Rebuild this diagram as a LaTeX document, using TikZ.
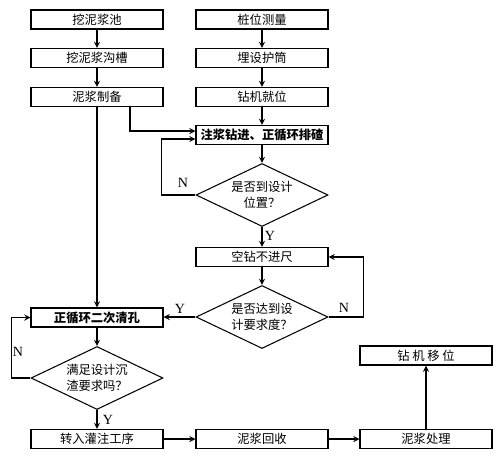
\documentclass[tikz,border=0pt]{standalone}
\usepackage{fontspec}
\setmainfont{Noto Sans CJK SC}
\newfontfamily\yn{Liberation Serif}
\usetikzlibrary{shapes.geometric}

\tikzset{
  box/.style={draw, rectangle, minimum width=2.64cm, minimum height=0.38cm,
    inner sep=0pt, font=\fontsize{7}{8}\selectfont},
  boldbox/.style={box, font=\fontsize{7}{8}\selectfont\bfseries},
  decision/.style={draw, diamond, aspect=2, minimum width=2.64cm, minimum height=1.26cm,
    inner sep=0pt, align=center, font=\fontsize{7}{9}\selectfont},
  tag/.style={font=\yn\fontsize{8}{8}\selectfont}
}

\begin{document}
\begin{tikzpicture}[x=0.02cm, y=-0.02cm, line width=0.6pt, >=stealth]
\useasboundingbox (0,0) rectangle (500,457);
\node[box] (POOL) at (97,19.5) {挖泥浆池};
\node[box] (DITCH) at (97,58) {挖泥浆沟槽};
\node[box] (PREP) at (97,97) {泥浆制备};
\node[box] (SURVEY) at (262,19.5) {桩位测量};
\node[box] (CASING) at (262,58) {埋设护筒};
\node[box] (RIG) at (262,97) {钻机就位};
\node[boldbox] (DRILL) at (262,135) {注浆钻进、正循环排碴};
\node[decision] (DEPTH) at (262,195) {是否到设计\\位置？};
\node[box] (IDLE) at (262,257) {空钻不进尺};
\node[decision] (REACH) at (262,317) {是否达到设\\计要求度？};
\node[boldbox] (CLEAN) at (97,317.5) {正循环二次清孔};
\node[decision] (SEDIM) at (97,378) {满足设计沉\\渣要求吗？};
\node[box] (POUR) at (97,439) {转入灌注工序};
\node[box] (RECOV) at (262,439) {泥浆回收};
\node[box] (TREAT) at (426,439) {泥浆处理};
\node[box] (MOVE) at (426,355.5) {钻\ 机\ 移\ 位};
\draw [->] (POOL) to (DITCH);
\draw [->] (DITCH) to (PREP);
\draw [->] (SURVEY) to (CASING);
\draw [->] (CASING) to (RIG);
\draw [->] (RIG) to (DRILL);
\draw [->] ([xshift=0.66cm]PREP.south) |- ([yshift=0.08cm]DRILL.west);
\draw [->] (DRILL) to (DEPTH);
\draw [->] (DEPTH.west) -- ++(-34,0) |- ([yshift=-0.08cm]DRILL.west);
\node[tag] (N1) at (183,183) {N};
\draw [->] (DEPTH) to (IDLE);
\node[tag] (Y1) at (270,236) {Y};
\draw [->] (IDLE) to (REACH);
\draw [->] (REACH.east) -- ++(35,0) |- (IDLE.east);
\node[tag] (N2) at (344,308) {N};
\draw [->] (REACH.west) to (REACH.west -| CLEAN.east);
\node[tag] (Y2) at (180,309) {Y};
\draw [->] (PREP) to (CLEAN);
\draw [->] (CLEAN) to (SEDIM);
\draw [->] (SEDIM.west) -- ++(-19,0) |- (CLEAN.west);
\node[tag] (N3) at (18,352) {N};
\draw [->] (SEDIM) to (POUR);
\node[tag] (Y3) at (108,420) {Y};
\draw [->] (POUR) to (RECOV);
\draw [->] (RECOV) to (TREAT);
\draw [->] (TREAT) to (MOVE);
\end{tikzpicture}
\end{document}
